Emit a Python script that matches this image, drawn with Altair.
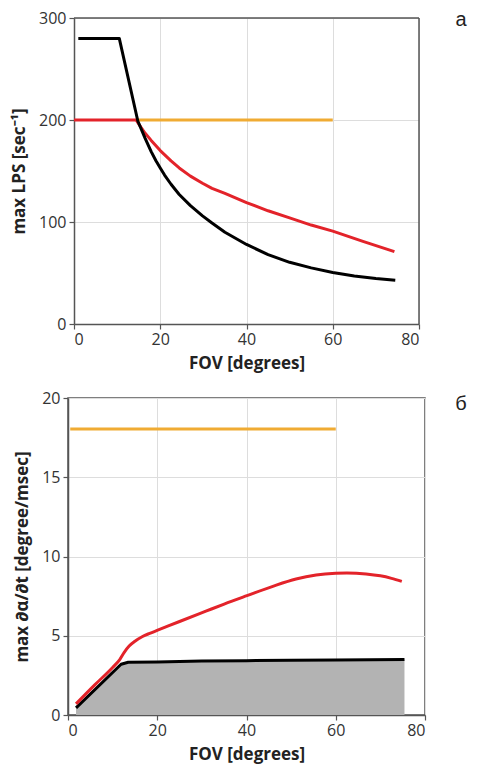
import altair as alt
import pandas as pd

# ---- panel a: max LPS vs FOV ----
a_black_x = [1, 10.5, 14.8, 16.5, 17.9, 19, 20, 21, 22.5, 24.4, 27, 29.8, 32, 35, 40, 45, 50, 55, 60, 65, 70, 74.5]
a_black_y = [280, 280, 199, 182, 169, 160, 153, 146, 137, 127, 116, 106, 99, 90, 78, 68, 60.5, 55, 50.5, 47, 44.5, 43]
a_red_x = [0, 14.4, 15.5, 16.5, 17.9, 20, 22.5, 24.4, 27, 29.8, 32, 35, 40, 45, 50, 55, 60, 67, 74.3]
a_red_y = [200, 200, 193, 187, 180, 170, 160, 153, 145, 138, 133, 128, 119, 111, 104, 97, 91, 81, 71]
a_orange_x = [14.8, 60]
a_orange_y = [200, 200]

# ---- panel б: max dα/dt vs FOV ----
b_black_x = [1.8, 11.9, 13.5, 20, 30, 40, 50, 60, 75.4]
b_black_y = [0.45, 3.2, 3.33, 3.35, 3.4, 3.43, 3.45, 3.47, 3.5]
b_red_x = [1.8, 6, 10, 11.6, 12.6, 13.7, 15, 16.7, 18.3, 20.1, 25, 30.9, 35, 40.1, 45.9, 51.1, 55.6, 60, 62.5, 66.8, 70, 72.5, 74.8]
b_red_y = [0.7, 1.9, 3.0, 3.5, 3.95, 4.35, 4.65, 4.95, 5.15, 5.35, 5.9, 6.55, 7.0, 7.53, 8.12, 8.58, 8.83, 8.94, 8.96, 8.9, 8.78, 8.62, 8.43]
b_orange_x = [0.5, 60]
b_orange_y = [18.05, 18.05]

x_ticks = [0, 20, 40, 60, 80]
a_y_ticks = [0, 100, 200, 300]
b_y_ticks = [0, 5, 10, 15, 20]
x_domain = [0, 80]
a_y_domain = [0, 300]
b_y_domain = [0, 20]

BLACK = "#000000"
RED = "#e3232a"
ORANGE = "#f0ab33"
GRAY = "#b3b3b3"
FRAME = "#555555"
FONT = "Open Sans"

A_W, A_SHIFT = 351, 6


def df(x, y):
    return pd.DataFrame({"x": x, "y": y})


# Panel a (its plot area is inset by A_SHIFT on the left)
xa = alt.X("x:Q", scale=alt.Scale(domain=x_domain, nice=False, range=[A_SHIFT, A_W]),
           axis=alt.Axis(values=x_ticks, title="FOV [degrees]"))
ya = alt.Y("y:Q", scale=alt.Scale(domain=a_y_domain, nice=False),
           axis=alt.Axis(values=a_y_ticks, title="max LPS [sec⁻¹]", offset=-A_SHIFT))

frame_a = pd.DataFrame({"x": [x_domain[0], x_domain[1]], "x2": [x_domain[1], x_domain[1]],
                        "y": [a_y_domain[1], a_y_domain[0]], "y2": [a_y_domain[1], a_y_domain[1]]})
a_frame = alt.Chart(frame_a).mark_rule(color=FRAME, strokeWidth=1.5).encode(
    x=xa, x2="x2:Q", y=ya, y2="y2:Q")
a_orange = alt.Chart(df(a_orange_x, a_orange_y)).mark_line(color=ORANGE, strokeWidth=3).encode(x=xa, y=ya)
a_red = alt.Chart(df(a_red_x, a_red_y)).mark_line(color=RED, strokeWidth=3, strokeJoin="round").encode(x=xa, y=ya)
a_black = alt.Chart(df(a_black_x, a_black_y)).mark_line(color=BLACK, strokeWidth=3, strokeJoin="round").encode(x=xa, y=ya)
a_label = alt.Chart(pd.DataFrame({"t": ["a"]})).mark_text(
    font="Liberation Sans", fontSize=20, align="center", baseline="middle", color="#222"
).encode(x=alt.value(393), y=alt.value(2), text="t:N")

panel_a = alt.layer(a_frame, a_orange, a_red, a_black, a_label).properties(
    width=A_W, height=306, view=alt.ViewBackground(stroke="transparent", strokeWidth=0))

# Panel б
xb = alt.X("x:Q", scale=alt.Scale(domain=x_domain, nice=False),
           axis=alt.Axis(values=x_ticks, title="FOV [degrees]"))
yb = alt.Y("y:Q", scale=alt.Scale(domain=b_y_domain, nice=False),
           axis=alt.Axis(values=b_y_ticks, title="max ∂α/∂t [degree/msec]"))

b_area = alt.Chart(df(b_black_x, b_black_y)).mark_area(color=GRAY, opacity=1).encode(x=xb, y=yb)
b_orange = alt.Chart(df(b_orange_x, b_orange_y)).mark_line(color=ORANGE, strokeWidth=3).encode(x=xb, y=yb)
b_black = alt.Chart(df(b_black_x, b_black_y)).mark_line(color=BLACK, strokeWidth=3, strokeJoin="round").encode(x=xb, y=yb)
b_red = alt.Chart(df(b_red_x, b_red_y)).mark_line(color=RED, strokeWidth=3, strokeJoin="round", interpolate="monotone").encode(x=xb, y=yb)
b_label = alt.Chart(pd.DataFrame({"t": ["б"]})).mark_text(
    font="Liberation Sans", fontSize=20, align="center", baseline="middle", color="#222"
).encode(x=alt.value(393), y=alt.value(6), text="t:N")

panel_b = alt.layer(b_area, b_orange, b_black, b_red, b_label).properties(
    width=357, height=317, view=alt.ViewBackground(stroke=FRAME, strokeWidth=1.5))

chart = alt.vconcat(panel_a, panel_b, spacing=18).properties(
    padding={"left": 10, "top": 10, "right": 5, "bottom": 5}
).configure_axis(
    domainColor=FRAME, domainWidth=1.5,
    tickColor=FRAME, tickSize=5, tickWidth=1.2,
    gridColor="#dddddd", gridWidth=1,
    labelFont=FONT, labelFontSize=16, labelColor="#333333", labelPadding=2,
    titleFont=FONT, titleFontSize=17, titleFontWeight="bold", titleColor="#222222",
    titlePadding=8
).configure_axisY(
    labelPadding=3, titlePadding=10
)

chart.save("out.html", embed_options={"renderer": "svg", "actions": False})
